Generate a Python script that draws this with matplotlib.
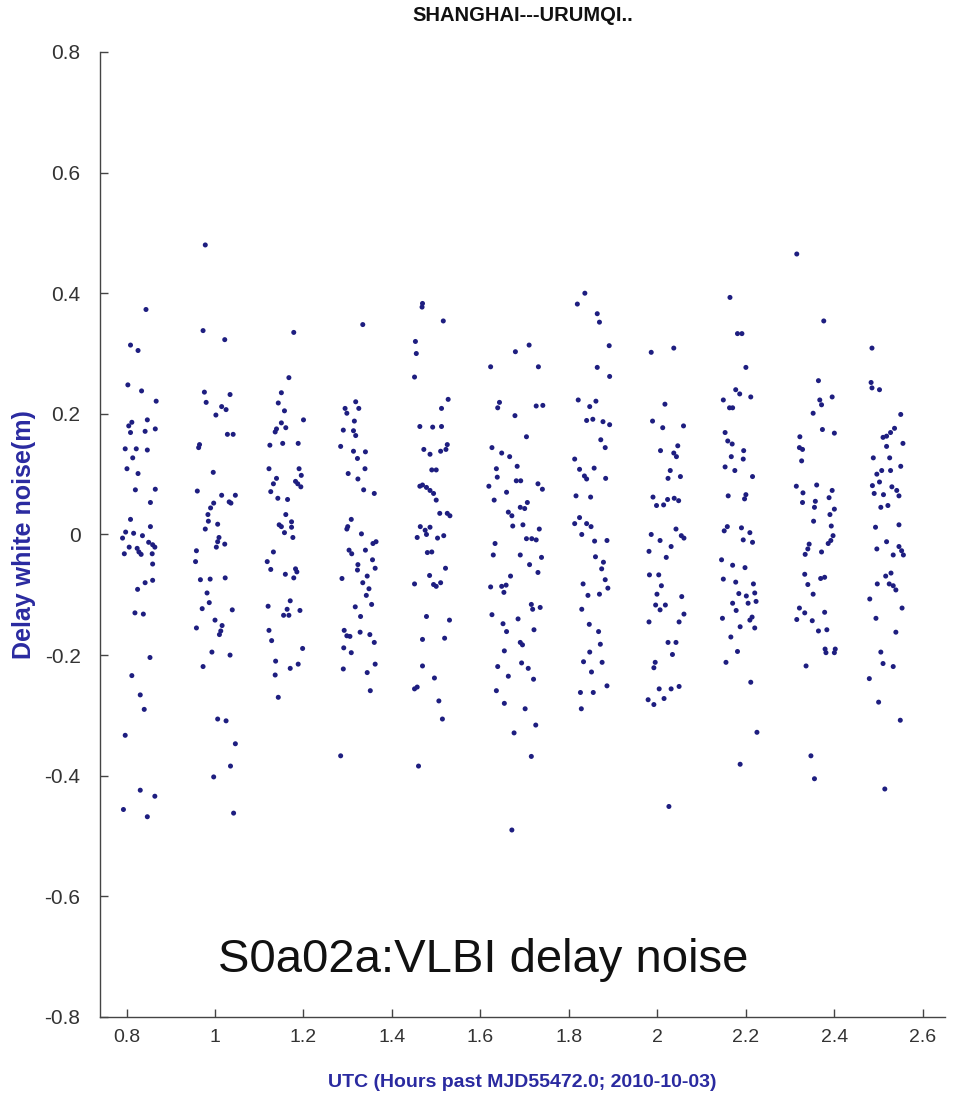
import numpy as np
import matplotlib
matplotlib.use("Agg")
import matplotlib.pyplot as plt

plt.rcParams['font.family'] = ['Liberation Sans', 'DejaVu Sans']

# ============================================================
# VLBI delay white noise, Shanghai -- Urumqi baseline
# values, one list pair per scan group
# ============================================================

title_text = "SHANGHAI---URUMQI.."
xlabel_text = "UTC (Hours past MJD55472.0; 2010-10-03)"
ylabel_text = "Delay white noise(m)"
note_text = "S0a02a:VLBI delay noise"

xticks = [0.8, 1.0, 1.2, 1.4, 1.6, 1.8, 2.0, 2.2, 2.4, 2.6]
xtick_labels = ["0.8", "1", "1.2", "1.4", "1.6", "1.8", "2", "2.2", "2.4", "2.6"]
yticks = [-0.8, -0.6, -0.4, -0.2, 0.0, 0.2, 0.4, 0.6, 0.8]
ytick_labels = ["-0.8", "-0.6", "-0.4", "-0.2", "0", "0.2", "0.4", "0.6", "0.8"]

x1 = [0.844, 0.809, 0.826, 0.803, 0.834, 0.867, 0.812, 0.847, 0.805, 0.809, 0.842, 0.865, 0.797,
      0.822, 0.847, 0.814, 0.801, 0.826, 0.820, 0.865, 0.854, 0.809, 0.854, 0.798, 0.816, 0.791,
      0.836, 0.850, 0.859, 0.864, 0.806, 0.824, 0.828, 0.833, 0.795, 0.858, 0.859, 0.842, 0.825,
      0.859, 0.819, 0.838, 0.853, 0.812, 0.831, 0.840, 0.797, 0.831, 0.864, 0.793, 0.847]
y1 = [0.373, 0.314, 0.305, 0.248, 0.238, 0.221, 0.186, 0.190, 0.180, 0.169, 0.171, 0.175, 0.142,
      0.142, 0.140, 0.127, 0.109, 0.101, 0.074, 0.075, 0.053, 0.025, 0.013, 0.004, 0.002, -0.006,
      -0.002, -0.013, -0.017, -0.021, -0.021, -0.023, -0.029, -0.033, -0.032, -0.032, -0.049,
      -0.080, -0.091, -0.076, -0.130, -0.132, -0.204, -0.234, -0.266, -0.290, -0.333, -0.424,
      -0.434, -0.456, -0.468]

x2 = [0.978, 0.973, 1.022, 0.976, 0.980, 1.034, 1.015, 1.025, 1.002, 1.028, 1.041, 0.965, 0.963,
      0.996, 0.960, 1.015, 1.046, 1.032, 1.036, 0.997, 0.990, 0.984, 0.985, 1.006, 0.978, 1.009,
      1.006, 1.022, 1.003, 0.958, 0.956, 0.967, 0.989, 1.023, 0.982, 0.987, 0.971, 1.039, 1.000,
      1.016, 1.013, 1.010, 0.958, 0.993, 1.034, 0.973, 1.006, 1.025, 1.046, 1.035, 0.997, 1.042]
y2 = [0.480, 0.338, 0.323, 0.236, 0.219, 0.232, 0.212, 0.207, 0.198, 0.166, 0.166, 0.149, 0.144,
      0.103, 0.072, 0.065, 0.065, 0.054, 0.052, 0.052, 0.044, 0.033, 0.022, 0.017, 0.009, -0.005,
      -0.012, -0.016, -0.021, -0.027, -0.045, -0.075, -0.074, -0.072, -0.097, -0.113, -0.123,
      -0.125, -0.142, -0.151, -0.160, -0.166, -0.155, -0.195, -0.200, -0.219, -0.306, -0.309,
      -0.347, -0.384, -0.402, -0.462]

x3 = [1.178, 1.167, 1.150, 1.143, 1.157, 1.200, 1.150, 1.160, 1.139, 1.136, 1.124, 1.153, 1.188,
      1.122, 1.190, 1.195, 1.139, 1.132, 1.182, 1.187, 1.194, 1.126, 1.142, 1.164, 1.160, 1.145,
      1.150, 1.173, 1.173, 1.157, 1.176, 1.132, 1.118, 1.126, 1.159, 1.182, 1.185, 1.178, 1.120,
      1.170, 1.163, 1.155, 1.167, 1.192, 1.122, 1.128, 1.198, 1.137, 1.188, 1.170, 1.136, 1.143]
y3 = [0.335, 0.260, 0.235, 0.218, 0.205, 0.190, 0.185, 0.177, 0.175, 0.170, 0.148, 0.151, 0.151,
      0.109, 0.109, 0.098, 0.093, 0.084, 0.088, 0.084, 0.079, 0.071, 0.060, 0.058, 0.033, 0.016,
      0.013, 0.021, 0.012, 0.003, -0.005, -0.029, -0.045, -0.058, -0.066, -0.057, -0.062, -0.072,
      -0.119, -0.110, -0.124, -0.134, -0.134, -0.126, -0.159, -0.176, -0.189, -0.210, -0.215,
      -0.222, -0.233, -0.270]

x4 = [1.334, 1.294, 1.298, 1.318, 1.325, 1.315, 1.290, 1.313, 1.318, 1.284, 1.313, 1.322, 1.340,
      1.339, 1.301, 1.323, 1.336, 1.360, 1.308, 1.300, 1.298, 1.331, 1.364, 1.357, 1.340, 1.303,
      1.309, 1.323, 1.322, 1.356, 1.362, 1.344, 1.287, 1.334, 1.348, 1.342, 1.354, 1.317, 1.329,
      1.292, 1.298, 1.305, 1.328, 1.350, 1.360, 1.291, 1.308, 1.362, 1.290, 1.344, 1.351, 1.284]
y4 = [0.348, 0.209, 0.201, 0.220, 0.209, 0.188, 0.173, 0.172, 0.164, 0.146, 0.138, 0.126, 0.137,
      0.109, 0.101, 0.092, 0.074, 0.068, 0.025, 0.013, 0.009, 0.001, -0.012, -0.015, -0.026,
      -0.026, -0.032, -0.050, -0.059, -0.042, -0.056, -0.069, -0.073, -0.080, -0.090, -0.101,
      -0.116, -0.120, -0.136, -0.159, -0.168, -0.169, -0.162, -0.166, -0.179, -0.188, -0.196,
      -0.215, -0.223, -0.229, -0.259, -0.367]

x5 = [1.469, 1.468, 1.516, 1.453, 1.455, 1.451, 1.527, 1.512, 1.463, 1.492, 1.512, 1.472, 1.486,
      1.510, 1.522, 1.525, 1.490, 1.500, 1.463, 1.469, 1.478, 1.486, 1.494, 1.500, 1.508, 1.525,
      1.531, 1.464, 1.486, 1.475, 1.478, 1.457, 1.503, 1.517, 1.480, 1.490, 1.521, 1.485, 1.451,
      1.494, 1.500, 1.510, 1.478, 1.530, 1.469, 1.519, 1.469, 1.496, 1.451, 1.457, 1.506, 1.514,
      1.460]
y5 = [0.383, 0.377, 0.354, 0.320, 0.300, 0.261, 0.224, 0.209, 0.179, 0.178, 0.179, 0.141, 0.133,
      0.138, 0.141, 0.149, 0.107, 0.107, 0.080, 0.082, 0.078, 0.073, 0.068, 0.057, 0.035, 0.035,
      0.031, 0.013, 0.012, 0.007, 0.000, -0.005, -0.006, -0.002, -0.030, -0.029, -0.056, -0.068,
      -0.082, -0.083, -0.086, -0.080, -0.136, -0.142, -0.174, -0.172, -0.218, -0.238, -0.256,
      -0.253, -0.276, -0.306, -0.384]

x6 = [1.710, 1.679, 1.623, 1.731, 1.643, 1.639, 1.726, 1.741, 1.678, 1.704, 1.626, 1.648, 1.666,
      1.636, 1.683, 1.638, 1.619, 1.659, 1.681, 1.691, 1.730, 1.740, 1.631, 1.663, 1.671, 1.690,
      1.700, 1.706, 1.673, 1.696, 1.733, 1.704, 1.716, 1.726, 1.633, 1.629, 1.690, 1.738, 1.711,
      1.730, 1.668, 1.623, 1.648, 1.658, 1.653, 1.715, 1.718, 1.735, 1.626, 1.651, 1.659, 1.685,
      1.721, 1.690, 1.695, 1.654, 1.693, 1.708, 1.639, 1.663, 1.720, 1.636, 1.654, 1.701, 1.725,
      1.676, 1.715, 1.671]
y6 = [0.314, 0.303, 0.278, 0.278, 0.219, 0.210, 0.213, 0.214, 0.197, 0.162, 0.144, 0.135, 0.129,
      0.109, 0.113, 0.095, 0.080, 0.070, 0.089, 0.089, 0.084, 0.075, 0.057, 0.037, 0.031, 0.045,
      0.043, 0.053, 0.014, 0.016, 0.009, -0.007, -0.007, -0.009, -0.015, -0.034, -0.034, -0.038,
      -0.050, -0.063, -0.069, -0.087, -0.086, -0.084, -0.096, -0.116, -0.124, -0.121, -0.133,
      -0.148, -0.161, -0.140, -0.158, -0.179, -0.183, -0.193, -0.213, -0.222, -0.219, -0.235,
      -0.240, -0.259, -0.280, -0.289, -0.316, -0.329, -0.368, -0.490]

x7 = [1.836, 1.819, 1.864, 1.869, 1.891, 1.864, 1.892, 1.821, 1.847, 1.861, 1.840, 1.854, 1.877,
      1.892, 1.872, 1.882, 1.813, 1.824, 1.857, 1.835, 1.840, 1.883, 1.816, 1.849, 1.824, 1.813,
      1.840, 1.850, 1.829, 1.858, 1.886, 1.860, 1.878, 1.874, 1.882, 1.888, 1.832, 1.843, 1.869,
      1.829, 1.846, 1.867, 1.871, 1.847, 1.833, 1.875, 1.851, 1.886, 1.826, 1.855, 1.828]
y7 = [0.400, 0.382, 0.366, 0.352, 0.313, 0.277, 0.262, 0.223, 0.212, 0.221, 0.189, 0.191, 0.187,
      0.182, 0.157, 0.144, 0.125, 0.108, 0.110, 0.097, 0.092, 0.093, 0.064, 0.062, 0.028, 0.018,
      0.018, 0.013, 0.000, -0.011, -0.010, -0.037, -0.046, -0.057, -0.075, -0.089, -0.082,
      -0.101, -0.099, -0.124, -0.149, -0.161, -0.182, -0.195, -0.211, -0.212, -0.228, -0.251,
      -0.262, -0.262, -0.289]

x8 = [1.986, 2.037, 2.017, 1.989, 2.012, 2.059, 2.007, 2.046, 2.037, 2.043, 2.029, 2.024, 2.052,
      1.990, 1.998, 2.014, 2.023, 2.038, 2.048, 2.042, 2.060, 2.054, 1.986, 2.006, 2.031, 1.981,
      2.020, 1.982, 2.003, 2.009, 1.999, 1.996, 2.006, 2.018, 2.055, 2.060, 1.981, 2.049, 2.024,
      2.042, 2.034, 1.995, 1.992, 2.004, 2.031, 2.049, 2.015, 1.979, 1.992, 2.026]
y8 = [0.302, 0.309, 0.216, 0.188, 0.177, 0.180, 0.139, 0.147, 0.135, 0.129, 0.106, 0.093, 0.096,
      0.062, 0.048, 0.049, 0.058, 0.060, 0.056, 0.009, -0.006, -0.002, 0.000, -0.010, -0.020,
      -0.028, -0.038, -0.067, -0.067, -0.085, -0.099, -0.117, -0.125, -0.117, -0.103, -0.132,
      -0.145, -0.145, -0.179, -0.179, -0.199, -0.212, -0.221, -0.256, -0.256, -0.252, -0.272,
      -0.274, -0.282, -0.451]

x9 = [2.164, 2.181, 2.191, 2.200, 2.177, 2.186, 2.149, 2.211, 2.163, 2.170, 2.153, 2.159, 2.169,
      2.195, 2.167, 2.194, 2.153, 2.175, 2.215, 2.160, 2.200, 2.197, 2.151, 2.158, 2.190, 2.209,
      2.194, 2.215, 2.145, 2.170, 2.198, 2.149, 2.177, 2.217, 2.184, 2.201, 2.220, 2.223, 2.170,
      2.205, 2.178, 2.147, 2.209, 2.214, 2.187, 2.220, 2.166, 2.181, 2.155, 2.211, 2.225, 2.187]
y9 = [0.393, 0.333, 0.333, 0.277, 0.240, 0.233, 0.223, 0.228, 0.210, 0.210, 0.169, 0.155, 0.150,
      0.139, 0.129, 0.125, 0.112, 0.106, 0.096, 0.064, 0.066, 0.059, 0.006, 0.013, 0.011, 0.003,
      -0.009, -0.013, -0.042, -0.051, -0.055, -0.074, -0.079, -0.082, -0.098, -0.102, -0.097,
      -0.111, -0.114, -0.114, -0.126, -0.139, -0.142, -0.137, -0.153, -0.155, -0.170, -0.194,
      -0.212, -0.245, -0.328, -0.381]

x10 = [2.315, 2.376, 2.364, 2.367, 2.371, 2.395, 2.352, 2.373, 2.400, 2.322, 2.321, 2.328, 2.326,
       2.314, 2.329, 2.360, 2.328, 2.395, 2.388, 2.357, 2.355, 2.400, 2.390, 2.353, 2.393, 2.397,
       2.392, 2.386, 2.343, 2.340, 2.334, 2.371, 2.333, 2.369, 2.378, 2.340, 2.352, 2.321, 2.315,
       2.333, 2.350, 2.378, 2.364, 2.383, 2.379, 2.381, 2.402, 2.400, 2.336, 2.347, 2.355]
y10 = [0.465, 0.354, 0.255, 0.223, 0.215, 0.228, 0.201, 0.174, 0.168, 0.162, 0.144, 0.141, 0.122,
       0.080, 0.069, 0.082, 0.053, 0.073, 0.061, 0.055, 0.045, 0.042, 0.033, 0.022, 0.014, -0.002,
       -0.010, -0.015, -0.016, -0.024, -0.033, -0.029, -0.066, -0.073, -0.071, -0.083, -0.099,
       -0.122, -0.141, -0.130, -0.143, -0.129, -0.160, -0.158, -0.190, -0.196, -0.190, -0.196,
       -0.218, -0.367, -0.405]

x11 = [2.485, 2.483, 2.485, 2.502, 2.550, 2.510, 2.518, 2.527, 2.536, 2.518, 2.555, 2.488, 2.525,
       2.550, 2.496, 2.507, 2.527, 2.502, 2.486, 2.490, 2.511, 2.530, 2.541, 2.546, 2.505, 2.521,
       2.493, 2.546, 2.496, 2.518, 2.533, 2.546, 2.552, 2.556, 2.516, 2.528, 2.497, 2.524, 2.533,
       2.539, 2.480, 2.553, 2.494, 2.539, 2.505, 2.510, 2.533, 2.479, 2.500, 2.549, 2.514]
y11 = [0.309, 0.252, 0.243, 0.240, 0.199, 0.161, 0.163, 0.169, 0.176, 0.146, 0.151, 0.127, 0.127,
       0.113, 0.100, 0.106, 0.106, 0.087, 0.081, 0.068, 0.066, 0.079, 0.073, 0.064, 0.045, 0.048,
       0.012, 0.016, -0.024, -0.012, -0.034, -0.020, -0.027, -0.034, -0.069, -0.064, -0.082,
       -0.082, -0.085, -0.092, -0.107, -0.122, -0.139, -0.162, -0.195, -0.214, -0.219, -0.239,
       -0.278, -0.308, -0.422]

x_all = np.concatenate([x1, x2, x3, x4, x5, x6, x7, x8, x9, x10, x11])
y_all = np.concatenate([y1, y2, y3, y4, y5, y6, y7, y8, y9, y10, y11])

# ── Figure ───────────────────────────────────────────────────
fig = plt.figure(figsize=(9.55, 10.96), dpi=100)
ax = fig.add_axes([0.1047, 0.0721, 0.8848, 0.8805])

ax.scatter(x_all, y_all, s=13, color="#1e1e80", edgecolors="none")

ax.set_xlim(0.74, 2.65)
ax.set_ylim(-0.8, 0.8)
ax.set_xticks(xticks)
ax.set_xticklabels(xtick_labels)
ax.set_yticks(yticks)
ax.set_yticklabels(ytick_labels)

ax.spines["top"].set_visible(False)
ax.spines["right"].set_visible(False)
for side in ["left", "bottom"]:
    ax.spines[side].set_color("#444444")
    ax.spines[side].set_linewidth(1.0)
ax.tick_params(direction="in", length=6, width=1.0, color="#444444",
               labelcolor="#333333")
ax.tick_params(axis="x", labelsize=14, pad=9)
ax.tick_params(axis="y", labelsize=15, pad=14)

ax.set_xlabel(xlabel_text, fontsize=14, fontweight="bold", color="#2a2aa0", labelpad=20)
ax.set_ylabel(ylabel_text, fontsize=18, fontweight="bold", color="#2a2aa0", labelpad=6)
ax.set_title(title_text, fontsize=14.5, fontweight="bold", color="#111111", pad=22)

ax.text(1.606, -0.705, note_text, fontsize=34, color="#111111",
        ha="center", va="center")

fig.savefig("out.png", dpi=100)
